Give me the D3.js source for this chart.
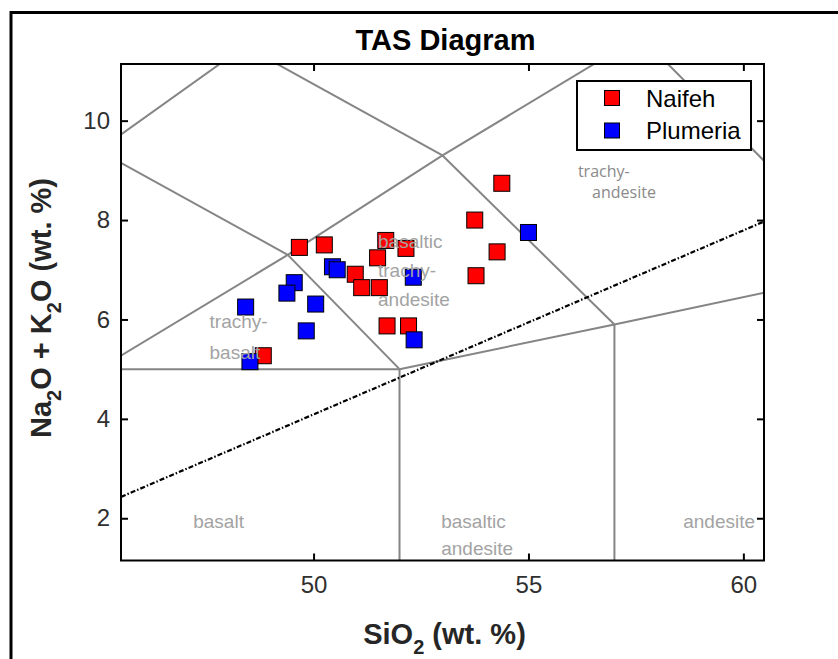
<!DOCTYPE html>
<html>
<head>
<meta charset="utf-8">
<script src="https://cdn.jsdelivr.net/npm/d3@7"></script>
<style>
    html, body { margin: 0; padding: 0; background: #fff; }
    svg { display: block; }
</style>
</head>
<body>
<div id="chart"></div>
<script>
(function () {

    'use strict';

    // < data >

    var naifehSiO2 = [49.67, 50.25, 51.68, 52.15, 51.49, 50.97, 51.12, 51.53, 51.71, 52.21, 48.83, 54.38, 53.75, 54.27, 53.78];
    var naifehAlk = [7.45, 7.50, 7.59, 7.43, 7.24, 6.91, 6.64, 6.64, 5.87, 5.87, 5.27, 8.74, 8.00, 7.36, 6.88];

    var plumeriaSiO2 = [50.44, 50.55, 49.55, 49.38, 50.05, 48.42, 49.83, 48.52, 52.32, 52.34, 55.00];
    var plumeriaAlk = [7.06, 7.00, 6.74, 6.53, 6.31, 6.25, 5.77, 5.15, 6.85, 5.59, 7.75];

    // TAS field boundaries (Le Bas et al.), each one is [x1, y1, x2, y2]
    var tasBoundaries = [
        [52, 0, 52, 5],
        [57, 0, 57, 5.9],
        [45, 5, 52, 5],
        [52, 5, 57, 5.9],
        [57, 5.9, 63, 7],
        [45, 5, 49.4, 7.3],
        [49.4, 7.3, 53, 9.3],
        [53, 9.3, 57.6, 11.7],
        [52, 5, 49.4, 7.3],
        [57, 5.9, 53, 9.3],
        [63, 7, 57.6, 11.7],
        [45, 9.4, 49.4, 7.3],
        [48.4, 11.5, 53, 9.3],
        [41, 7, 45, 9.4],
        [45, 9.4, 48.4, 11.5]
    ];

    // alkaline / subalkaline divide
    var alkalineDivideSiO2 = [45.52, 60.48];
    var alkalineDivideAlk = [2.43, 7.97];

    var xTicks = [50, 55, 60];
    var yTicks = [2, 4, 6, 8, 10];

    var seriesNames = ['Naifeh', 'Plumeria'];
    var seriesColors = ['#ff0000', '#0000ff'];

    // field names: text lines and anchor point in data units
    var fieldLabels = [
        {lines: ['trachy-', 'basalt'], x: 47.58, y: 5.82, gap: 31},
        {lines: ['basaltic', 'trachy-', 'andesite'], x: 51.5, y: 7.43, gap: 29},
        {lines: ['basalt'], x: 47.2, y: 1.8, gap: 0},
        {lines: ['basaltic', 'andesite'], x: 52.97, y: 1.8, gap: 27},
        {lines: ['andesite'], x: 58.6, y: 1.8, gap: 0}
    ];

    var width = 838;
    var height = 659;

    var plotLeft = 121;
    var plotRight = 764;
    var plotTop = 64;
    var plotBottom = 560.5;

    var drawChart = function () {

        var svg = d3.select('#chart')
            .append('svg')
                .attr('width', width)
                .attr('height', height);

        var x = d3.scaleLinear()
            .domain([45.52, 60.48])
            .range([plotLeft, plotRight]);

        var y = d3.scaleLinear()
            .domain([1.15, 11.14])
            .range([plotBottom, plotTop]);

        // figure frame
        svg.append('rect')
            .attr('x', 11)
            .attr('y', 12.5)
            .attr('width', width + 10)
            .attr('height', height + 10)
            .attr('fill', 'none')
            .attr('stroke', '#000')
            .attr('stroke-width', 3);

        svg.append('defs')
            .append('clipPath')
                .attr('id', 'plot-clip')
            .append('rect')
                .attr('x', plotLeft)
                .attr('y', plotTop)
                .attr('width', plotRight - plotLeft)
                .attr('height', plotBottom - plotTop);

        var plotG = svg.append('g')
            .attr('clip-path', 'url(#plot-clip)');

        plotG.selectAll('line.tas')
            .data(tasBoundaries)
            .enter()
            .append('line')
                .attr('class', 'tas')
                .attr('x1', function (d) { return x(d[0]); })
                .attr('y1', function (d) { return y(d[1]); })
                .attr('x2', function (d) { return x(d[2]); })
                .attr('y2', function (d) { return y(d[3]); })
                .attr('stroke', '#858585')
                .attr('stroke-width', 2);

        plotG.append('line')
            .attr('x1', x(alkalineDivideSiO2[0]))
            .attr('y1', y(alkalineDivideAlk[0]))
            .attr('x2', x(alkalineDivideSiO2[1]))
            .attr('y2', y(alkalineDivideAlk[1]))
            .attr('stroke', '#000')
            .attr('stroke-width', 2.2)
            .attr('stroke-dasharray', '5,2,1.5,2');

        var seriesData = [
            d3.zip(naifehSiO2, naifehAlk),
            d3.zip(plumeriaSiO2, plumeriaAlk)
        ];

        var markerSize = 16;

        seriesData.forEach(function (points, i) {
            plotG.selectAll('rect.s' + i)
                .data(points)
                .enter()
                .append('rect')
                    .attr('class', 's' + i)
                    .attr('x', function (d) { return x(d[0]) - markerSize / 2; })
                    .attr('y', function (d) { return y(d[1]) - markerSize / 2; })
                    .attr('width', markerSize)
                    .attr('height', markerSize)
                    .attr('fill', seriesColors[i])
                    .attr('stroke', '#000')
                    .attr('stroke-width', 1);
        });

        // field labels
        fieldLabels.forEach(function (lbl) {
            var t = plotG.append('text')
                .attr('x', x(lbl.x))
                .attr('y', y(lbl.y))
                .attr('font-family', 'Liberation Sans, Arial, sans-serif')
                .attr('font-size', 19)
                .attr('fill', '#a3a3a3');
            lbl.lines.forEach(function (line, k) {
                t.append('tspan')
                    .attr('x', x(lbl.x))
                    .attr('dy', k === 0 ? 0 : lbl.gap)
                    .text(line);
            });
        });

        // the trachyandesite label uses another font in the source picture
        var ta = plotG.append('text')
            .attr('font-family', 'Open Sans, Noto Sans, sans-serif')
            .attr('font-size', 16)
            .attr('fill', '#8a8a8a');
        ta.append('tspan').attr('x', x(56.15)).attr('y', y(8.87)).text('trachy-');
        ta.append('tspan').attr('x', x(56.48)).attr('y', y(8.45)).text('andesite');

        // axes box and ticks
        var axisG = svg.append('g');

        axisG.append('rect')
            .attr('x', plotLeft)
            .attr('y', plotTop)
            .attr('width', plotRight - plotLeft)
            .attr('height', plotBottom - plotTop)
            .attr('fill', 'none')
            .attr('stroke', '#000')
            .attr('stroke-width', 2);

        var tickLen = 7;

        var xAxisBottom = d3.axisBottom(x).tickValues(xTicks).tickSizeInner(-tickLen).tickSizeOuter(0).tickPadding(15);
        var xAxisTop = d3.axisTop(x).tickValues(xTicks).tickSizeInner(-tickLen).tickSizeOuter(0).tickFormat('');
        var yAxisLeft = d3.axisLeft(y).tickValues(yTicks).tickSizeInner(-tickLen).tickSizeOuter(0).tickPadding(11);
        var yAxisRight = d3.axisRight(y).tickValues(yTicks).tickSizeInner(-tickLen).tickSizeOuter(0).tickFormat('');

        var styleAxis = function (g) {
            g.select('.domain').remove();
            g.selectAll('.tick line').attr('stroke', '#000').attr('stroke-width', 2);
            g.selectAll('.tick text')
                .attr('font-family', 'Liberation Sans, Arial, sans-serif')
                .attr('font-size', 24)
                .attr('fill', '#303030');
        };

        axisG.append('g').attr('transform', 'translate(0,' + plotBottom + ')').call(xAxisBottom).call(styleAxis);
        axisG.append('g').attr('transform', 'translate(0,' + plotTop + ')').call(xAxisTop).call(styleAxis);
        axisG.append('g').attr('transform', 'translate(' + plotLeft + ',0)').call(yAxisLeft).call(styleAxis);
        axisG.append('g').attr('transform', 'translate(' + plotRight + ',0)').call(yAxisRight).call(styleAxis);

        // title and axis labels
        var midX = (plotLeft + plotRight) / 2;

        svg.append('text')
            .attr('x', midX + 3)
            .attr('y', 50)
            .attr('text-anchor', 'middle')
            .attr('font-family', 'Liberation Sans, Arial, sans-serif')
            .attr('font-weight', 'bold')
            .attr('font-size', 29)
            .attr('fill', '#000')
            .text('TAS Diagram');

        var addLabel = function (parts, tx, ty, rotate) {
            var t = svg.append('text')
                .attr('transform', 'translate(' + tx + ',' + ty + ')' + (rotate ? ' rotate(-90)' : ''))
                .attr('text-anchor', 'middle')
                .attr('font-family', 'Liberation Sans, Arial, sans-serif')
                .attr('font-weight', 'bold')
                .attr('font-size', 29)
                .attr('fill', '#262626');
            parts.forEach(function (p) {
                var s = t.append('tspan').text(p.t);
                if (p.sub) {
                    s.attr('font-size', 20).attr('dy', 10);
                } else if (p.after) {
                    s.attr('dy', -10);
                }
            });
        };

        addLabel([
            {t: 'SiO'}, {t: '2', sub: true}, {t: ' (wt. %)', after: true}
        ], midX + 2, 644, false);

        addLabel([
            {t: 'Na'}, {t: '2', sub: true}, {t: 'O + K', after: true}, {t: '2', sub: true}, {t: 'O (wt. %)', after: true}
        ], 51, 308, true);

        // legend
        var legendG = svg.append('g');

        legendG.append('rect')
            .attr('x', 577)
            .attr('y', 81)
            .attr('width', 174)
            .attr('height', 69)
            .attr('fill', '#fff')
            .attr('stroke', '#000')
            .attr('stroke-width', 2);

        seriesNames.forEach(function (name, i) {
            var cy = 98 + i * 32.5;
            legendG.append('rect')
                .attr('x', 612 - 7.5)
                .attr('y', cy - 7.5)
                .attr('width', 15)
                .attr('height', 15)
                .attr('fill', seriesColors[i])
                .attr('stroke', '#000')
                .attr('stroke-width', 1);
            legendG.append('text')
                .attr('x', 646)
                .attr('y', cy + 8.5)
                .attr('font-family', 'Liberation Sans, Arial, sans-serif')
                .attr('font-size', 24)
                .attr('fill', '#000')
                .text(name);
        });

    };

    drawChart();

}());
</script>
</body>
</html>
